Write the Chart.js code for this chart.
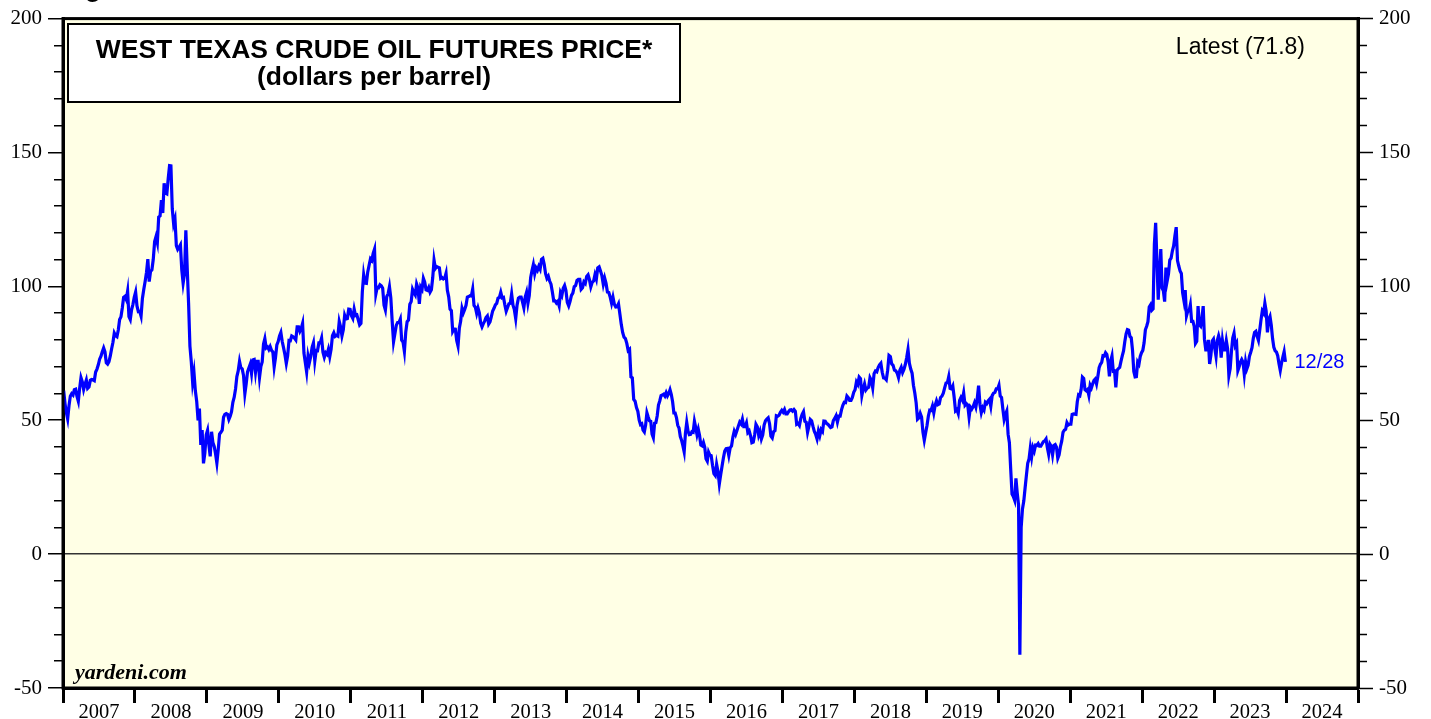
<!DOCTYPE html>
<html>
<head>
<meta charset="utf-8">
<title>West Texas Crude Oil Futures Price</title>
<script src="https://cdn.jsdelivr.net/npm/chart.js@4.4.1/dist/chart.umd.min.js"></script>
<style>
    html, body { margin: 0; padding: 0; background: #ffffff; }
    #wrap { width: 1431px; height: 719px; position: relative; overflow: hidden; }
</style>
</head>
<body>
<div id="wrap"><canvas id="oilChart" width="1431" height="719"></canvas></div>
<script>
// Weekly WTI front-month closes (dollars per barrel)
const wti2007 = [61.0, 56.3, 52.9, 50.5, 55.4, 59.0, 59.9, 59.4, 61.4, 61.6, 58.9, 57.1, 62.0, 65.9, 64.3, 61.5, 63.4, 65.0, 61.9, 62.4, 64.9, 65.2, 65.1, 64.8, 68.0, 69.1, 70.7, 72.8, 73.9, 75.6, 77.0, 75.5, 71.5, 71.0, 71.9, 74.0, 76.7, 79.1, 82.6, 81.6, 81.2, 83.7, 87.6, 88.6, 91.9, 95.9, 96.3, 95.1, 98.2, 88.7, 87.6, 91.3, 93.3, 96.0];
const wti2008 = [97.9, 92.7, 90.6, 90.7, 88.9, 95.5, 98.8, 101.8, 105.2, 110.2, 101.8, 105.6, 106.2, 110.1, 116.7, 118.5, 116.3, 125.9, 126.3, 132.2, 127.4, 138.5, 134.9, 134.6, 140.2, 145.1, 145.0, 128.9, 123.3, 125.1, 115.2, 113.8, 114.6, 115.5, 106.2, 101.2, 104.6, 120.9, 106.9, 93.9, 77.7, 71.9, 64.2, 67.8, 61.0, 57.0, 49.9, 54.4, 40.8, 46.3, 33.9, 37.7, 44.6];
const wti2009 = [46.3, 40.8, 36.5, 45.7, 41.7, 40.2, 37.5, 34.0, 38.9, 44.8, 45.5, 46.3, 51.1, 52.2, 52.5, 52.2, 50.3, 51.5, 53.2, 56.7, 58.6, 61.7, 66.3, 68.4, 72.0, 69.6, 69.2, 66.7, 59.9, 63.6, 68.1, 69.5, 70.9, 67.5, 72.5, 72.7, 68.0, 72.0, 72.0, 66.0, 70.0, 71.8, 78.5, 80.5, 77.0, 77.4, 76.4, 77.5, 76.1, 75.5, 69.9, 73.4, 78.1, 79.4];
const wti2010 = [81.5, 82.8, 79.4, 77.0, 74.5, 71.2, 74.1, 79.8, 79.7, 81.5, 81.2, 80.7, 80.0, 84.9, 84.9, 83.2, 84.3, 86.2, 75.1, 71.6, 68.0, 74.0, 71.5, 73.8, 77.2, 78.9, 72.1, 76.1, 76.0, 78.9, 78.9, 80.7, 75.4, 73.5, 75.2, 74.6, 76.5, 73.7, 76.5, 81.6, 82.7, 81.3, 81.7, 81.4, 86.9, 84.9, 81.5, 83.8, 89.2, 87.8, 88.0, 91.5, 91.4];
const wti2011 = [89.0, 88.0, 91.5, 89.1, 89.3, 87.5, 85.6, 86.2, 97.9, 104.4, 101.2, 101.1, 105.4, 107.9, 110.3, 109.7, 112.3, 113.9, 97.2, 99.7, 99.5, 100.6, 100.2, 99.3, 93.0, 91.2, 96.2, 97.2, 99.9, 95.7, 86.9, 79.3, 82.3, 85.4, 86.5, 86.5, 87.8, 79.9, 79.2, 75.7, 82.9, 86.8, 87.4, 93.3, 94.3, 98.9, 97.7, 96.8, 100.9, 99.4, 93.5, 99.7, 98.8];
const wti2012 = [103.0, 101.6, 98.7, 98.5, 99.6, 97.8, 98.7, 103.2, 109.8, 106.7, 107.4, 107.1, 106.9, 103.0, 103.3, 102.8, 103.1, 104.9, 98.5, 96.1, 91.5, 90.9, 83.2, 84.1, 84.0, 79.8, 77.7, 84.5, 87.1, 91.8, 90.1, 91.4, 92.9, 96.0, 96.2, 96.5, 96.4, 99.0, 92.9, 92.2, 89.9, 91.9, 90.1, 86.3, 84.9, 86.1, 87.0, 88.3, 88.9, 85.9, 86.7, 88.7, 90.8, 91.8];
const wti2013 = [93.1, 93.6, 95.6, 95.9, 97.8, 95.7, 95.9, 93.1, 90.7, 92.1, 93.5, 93.7, 97.2, 93.0, 91.3, 88.0, 93.0, 95.6, 96.0, 96.0, 94.2, 92.0, 96.0, 97.8, 93.7, 96.6, 103.2, 105.9, 108.1, 104.7, 106.9, 106.0, 107.5, 106.4, 110.1, 110.5, 108.2, 104.7, 103.0, 103.8, 102.0, 100.8, 97.9, 94.6, 94.6, 93.8, 94.4, 92.7, 97.7, 96.6, 99.3, 100.3, 98.4];
const wti2014 = [94.0, 92.7, 94.4, 96.6, 97.5, 99.9, 100.3, 102.2, 102.6, 102.6, 98.9, 99.5, 101.7, 101.1, 103.7, 104.3, 102.5, 99.8, 101.5, 102.0, 104.4, 102.7, 106.9, 107.3, 105.7, 104.0, 100.8, 103.1, 101.1, 97.9, 97.7, 96.0, 93.7, 96.0, 93.3, 92.3, 92.4, 93.5, 89.7, 85.8, 82.8, 81.0, 80.5, 78.7, 76.0, 76.5, 66.2, 65.8, 57.8, 57.1, 54.7, 53.3];
const wti2015 = [50.0, 48.4, 48.7, 46.3, 45.6, 48.2, 52.8, 51.2, 49.8, 49.6, 44.8, 43.5, 48.9, 49.1, 51.6, 55.7, 57.2, 59.2, 59.4, 59.7, 59.0, 60.3, 59.1, 60.0, 61.4, 59.6, 56.9, 52.7, 52.7, 51.0, 48.1, 47.1, 43.9, 42.5, 40.5, 38.2, 45.2, 49.2, 46.0, 44.6, 44.7, 45.7, 45.5, 49.6, 47.3, 44.6, 46.6, 44.3, 40.7, 40.4, 41.7, 40.0, 35.6, 34.7, 38.1, 37.0];
const wti2016 = [36.8, 33.2, 30.1, 29.4, 33.6, 30.9, 26.2, 29.6, 32.8, 35.9, 38.5, 39.4, 39.5, 36.8, 39.7, 40.4, 43.7, 45.9, 44.7, 46.2, 47.8, 49.3, 48.6, 50.4, 47.6, 47.6, 49.0, 45.4, 46.0, 44.2, 41.6, 41.8, 44.5, 48.5, 47.6, 44.4, 45.9, 43.0, 44.5, 48.2, 49.8, 50.4, 50.9, 48.7, 44.1, 43.4, 45.7, 46.1, 51.7, 51.5, 51.9, 53.0, 53.7];
const wti2017 = [53.0, 54.0, 52.4, 52.4, 53.2, 53.8, 53.9, 53.4, 54.0, 53.3, 48.5, 48.8, 48.0, 50.6, 52.2, 53.2, 49.6, 49.3, 45.5, 47.8, 50.3, 49.8, 47.7, 45.8, 44.7, 43.0, 46.0, 44.2, 46.5, 45.8, 49.7, 49.6, 48.8, 48.5, 47.9, 47.3, 47.5, 49.9, 50.7, 51.7, 49.3, 51.5, 51.5, 53.9, 55.6, 56.7, 56.6, 59.0, 58.4, 57.4, 57.4, 58.5, 60.4];
const wti2018 = [61.4, 64.3, 63.4, 66.1, 65.5, 59.2, 61.7, 63.6, 61.3, 62.0, 62.3, 65.9, 64.9, 62.1, 67.4, 68.4, 68.1, 69.7, 70.7, 71.3, 67.9, 65.8, 65.7, 65.1, 68.6, 74.2, 73.8, 71.0, 70.5, 68.7, 68.5, 67.6, 65.9, 68.7, 69.8, 67.8, 69.0, 70.8, 73.3, 76.4, 71.3, 69.1, 67.6, 63.1, 60.2, 56.5, 50.4, 50.9, 52.6, 51.2, 45.6, 42.5, 45.3];
const wti2019 = [48.0, 51.6, 53.8, 53.7, 55.3, 52.7, 55.6, 57.3, 55.8, 56.1, 58.5, 59.0, 60.1, 62.1, 63.9, 64.0, 66.3, 61.9, 61.7, 62.8, 58.6, 53.5, 54.0, 52.5, 57.4, 58.5, 57.5, 60.2, 55.6, 56.2, 55.7, 51.1, 54.9, 54.2, 55.1, 56.5, 54.9, 58.1, 62.9, 55.9, 52.8, 54.7, 53.8, 56.7, 56.2, 57.2, 57.8, 55.2, 59.2, 60.1, 60.4, 61.7, 61.7];
const wti2020 = [63.1, 59.0, 58.5, 54.2, 50.3, 52.1, 53.4, 44.8, 41.6, 31.7, 22.4, 21.5, 20.1, 28.3, 22.8, 18.3, -37.6, 10.0, 16.9, 19.8, 24.7, 29.4, 33.9, 35.5, 39.6, 36.3, 39.8, 38.5, 40.7, 40.6, 41.3, 40.3, 40.3, 41.2, 42.0, 42.3, 43.0, 39.8, 37.3, 41.1, 40.3, 37.1, 40.6, 40.9, 39.9, 35.8, 37.1, 40.1, 42.2, 45.5, 46.3, 46.6, 49.1, 48.2, 48.5];
const wti2021 = [48.5, 52.2, 52.4, 52.3, 52.2, 56.9, 59.5, 59.2, 61.5, 66.1, 65.6, 61.4, 61.0, 61.5, 59.3, 63.1, 62.1, 63.6, 64.9, 65.4, 63.6, 66.3, 69.6, 70.9, 71.6, 74.1, 74.0, 75.2, 74.6, 71.8, 66.4, 72.1, 74.0, 68.3, 68.4, 62.3, 68.7, 69.3, 69.7, 72.0, 74.0, 75.9, 79.4, 82.3, 83.8, 83.6, 81.3, 80.8, 76.1, 68.2, 66.2, 66.3, 71.7, 70.9, 73.8, 75.2];
const wti2022 = [76.1, 78.9, 83.8, 85.1, 86.8, 92.3, 93.1, 91.1, 91.6, 115.7, 123.7, 109.3, 95.0, 104.7, 113.9, 99.3, 98.3, 94.3, 107.0, 102.1, 104.7, 109.8, 110.5, 113.2, 115.1, 118.9, 122.1, 109.6, 107.6, 105.8, 104.8, 97.6, 94.7, 98.6, 89.0, 90.8, 90.8, 93.1, 86.9, 86.9, 85.1, 78.7, 79.5, 92.6, 85.6, 85.1, 87.9, 92.6, 80.1, 76.3, 76.3, 80.0, 71.0, 74.3, 79.6, 80.3];
const wti2023 = [76.9, 73.8, 79.9, 81.6, 79.7, 73.4, 79.7, 76.3, 76.3, 79.7, 76.7, 66.7, 69.3, 75.7, 80.7, 82.5, 77.9, 78.8, 68.6, 70.0, 71.7, 72.7, 71.7, 67.1, 71.8, 69.2, 70.6, 73.9, 75.4, 77.1, 80.6, 82.8, 83.2, 81.3, 79.8, 83.6, 87.5, 90.8, 90.0, 93.7, 90.8, 82.8, 87.7, 88.8, 85.5, 80.5, 77.2, 75.9, 75.5, 74.1, 71.1, 68.6, 71.4, 73.6, 75.6, 71.8];

const years = [2007, 2008, 2009, 2010, 2011, 2012, 2013, 2014, 2015, 2016, 2017, 2018, 2019, 2020, 2021, 2022, 2023];
const yearlySeries = [wti2007, wti2008, wti2009, wti2010, wti2011, wti2012, wti2013, wti2014, wti2015, wti2016, wti2017, wti2018, wti2019, wti2020, wti2021, wti2022, wti2023];

const xRange = [2007, 2025];
const yRange = [-50, 200];
const lastDate = '12/28';
const latestValue = 71.8;

// spread each year's weekly closes across that year
const points = [];
years.forEach(function(yr, k) {
    const vals = yearlySeries[k];
    vals.forEach(function(v, i) {
        points.push({ x: yr + (i + 0.5) / vals.length, y: v });
    });
});

const SANS = "'Liberation Sans', Arial, sans-serif";
const SERIF = "'Liberation Serif', 'Times New Roman', serif";

// background, frame, title box and notes
const decorations = {
    id: 'decorations',
    beforeDraw: function(chart) {
        const a = chart.chartArea;
        const ctx = chart.ctx;
        ctx.save();
        ctx.fillStyle = '#ffffff';
        ctx.fillRect(0, 0, chart.width, chart.height);
        ctx.fillStyle = 'rgb(255, 255, 229)';
        ctx.fillRect(a.left, a.top, a.right - a.left, a.bottom - a.top);
        ctx.restore();
    },
    afterDraw: function(chart) {
        const a = chart.chartArea;
        const ctx = chart.ctx;
        ctx.save();

        // frame
        ctx.strokeStyle = '#000';
        ctx.lineWidth = 3;
        ctx.strokeRect(a.left, a.top, a.right - a.left, a.bottom - a.top);

        // cut-off figure caption at very top
        ctx.fillStyle = '#000';
        ctx.font = 'bold 26px ' + SANS;
        ctx.textAlign = 'left';
        ctx.textBaseline = 'alphabetic';
        ctx.fillText('Figure 1.', 62, -3);

        // title box
        ctx.fillStyle = '#ffffff';
        ctx.fillRect(68, 24, 612, 78);
        ctx.lineWidth = 2;
        ctx.strokeRect(68, 24, 612, 78);
        ctx.fillStyle = '#000';
        ctx.textAlign = 'center';
        ctx.font = 'bold 26.5px ' + SANS;
        ctx.fillText('WEST TEXAS CRUDE OIL FUTURES PRICE*', 374, 58);
        ctx.fillText('(dollars per barrel)', 374, 85);

        // latest value
        ctx.font = '23px ' + SANS;
        ctx.textAlign = 'right';
        ctx.fillText('Latest (' + latestValue.toFixed(1) + ')', 1305, 54);

        // date of last point, next to the line end
        const meta = chart.getDatasetMeta(0);
        const last = meta.data[meta.data.length - 1];
        ctx.fillStyle = '#0000ff';
        ctx.font = '20px ' + SANS;
        ctx.textAlign = 'left';
        ctx.textBaseline = 'middle';
        ctx.fillText(lastDate, last.x + 9, last.y + 1);

        // source
        ctx.fillStyle = '#000';
        ctx.font = 'italic bold 22px ' + SERIF;
        ctx.textBaseline = 'alphabetic';
        ctx.fillText('yardeni.com', 75, 679);

        ctx.restore();
    }
};

const yTicks = {
    stepSize: 10,
    autoSkip: false,
    padding: 6,
    color: '#000',
    font: { family: SERIF, size: 21 },
    callback: function(value) {
        return value % 50 === 0 ? String(value) : '';
    }
};

new Chart(document.getElementById('oilChart'), {
    type: 'line',
    data: {
        datasets: [{
            label: 'WTI',
            data: points,
            borderColor: '#0000ff',
            borderWidth: 3.2,
            pointRadius: 0,
            tension: 0,
            fill: false
        }]
    },
    options: {
        responsive: false,
        animation: false,
        events: [],
        parsing: false,
        layout: { padding: { top: 16, left: 0, right: 0, bottom: 0 } },
        plugins: {
            legend: { display: false },
            tooltip: { enabled: false }
        },
        scales: {
            x: {
                type: 'linear',
                min: xRange[0],
                max: xRange[1],
                afterFit: function(scale) { scale.height = 31; },
                ticks: {
                    stepSize: 1,
                    autoSkip: false,
                    maxRotation: 0,
                    labelOffset: 36,
                    padding: -3,
                    color: '#000',
                    font: { family: SERIF, size: 20.5 },
                    callback: function(value) {
                        return value < xRange[1] ? String(value) : '';
                    }
                },
                grid: {
                    drawOnChartArea: false,
                    tickLength: 15,
                    tickWidth: 3,
                    tickColor: '#000'
                },
                border: { display: true, color: '#000', width: 3 }
            },
            y: {
                position: 'left',
                min: yRange[0],
                max: yRange[1],
                afterFit: function(scale) { scale.width = 63; },
                ticks: yTicks,
                grid: {
                    drawOnChartArea: true,
                    color: function(c) {
                        return c.tick && c.tick.value === 0 ? '#333333' : 'rgba(0,0,0,0)';
                    },
                    lineWidth: 1.5,
                    tickLength: 15,
                    tickWidth: 1.5,
                    tickColor: '#000',
                    tickBorderDash: function(c) {
                        return c.tick && c.tick.value % 50 === 0 ? [] : [0, 6, 10, 100];
                    }
                },
                border: { display: true, color: '#000', width: 3 }
            },
            y2: {
                position: 'right',
                min: yRange[0],
                max: yRange[1],
                afterFit: function(scale) { scale.width = 73; },
                ticks: yTicks,
                grid: {
                    drawOnChartArea: false,
                    tickLength: 15,
                    tickWidth: 1.5,
                    tickColor: '#000',
                    tickBorderDash: function(c) {
                        return c.tick && c.tick.value % 50 === 0 ? [] : [7, 100];
                    }
                },
                border: { display: true, color: '#000', width: 3 }
            }
        }
    },
    plugins: [decorations]
});
</script>
</body>
</html>
